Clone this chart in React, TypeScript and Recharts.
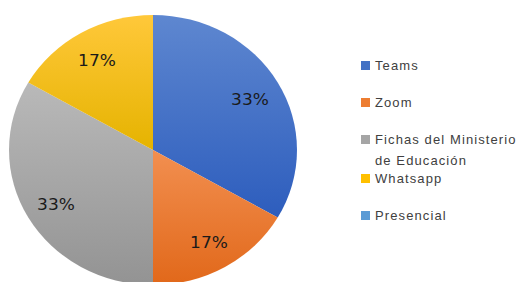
import React from 'react';
import { PieChart, Pie, Cell } from 'recharts';

const categories = ['Teams', 'Zoom', 'Fichas del Ministerio de Educación', 'Whatsapp', 'Presencial'];
const values = [2, 1, 2, 1, 0];
const legendLines = [['Teams'], ['Zoom'], ['Fichas del Ministerio', 'de Educación'], ['Whatsapp'], ['Presencial']];
const topColors = ['#5E87D0', '#F28F50', '#B9B9B9', '#FFC83A', '#5B9BD5'];
const bottomColors = ['#2D5DBD', '#E1681A', '#939393', '#E5B300', '#5B9BD5'];
const legendColors = ['#4472C4', '#ED7D31', '#A5A5A5', '#FFC000', '#5B9BD5'];

const data = categories.map((name, i) => ({ name, value: values[i] }));

const RAD = Math.PI / 180;
const SY = 135 / 144;

const renderLabel = (props: any) => {
  const { cx, cy, midAngle, percent, value } = props;
  if (!value) return null;
  const r = 112;
  const x = cx + r * Math.cos(-midAngle * RAD);
  const y = cy + r * Math.sin(-midAngle * RAD) + 2;
  return (
    <text
      x={x}
      y={y}
      textAnchor="middle"
      dominantBaseline="central"
      fill="#1a1a1a"
      fontFamily="DejaVu Sans"
      fontSize={17}
    >
      {`${Math.round(percent * 100)}%`}
    </text>
  );
};

export default function App() {
  return (
    <div style={{ position: 'absolute', left: 0, top: 0, width: 521, height: 282, overflow: 'hidden', background: '#fff' }}>
      <div style={{ position: 'absolute', left: 0, top: 0, transform: `scaleY(${SY})`, transformOrigin: '0 0' }}>
        <PieChart width={310} height={310} margin={{ top: 0, right: 0, bottom: 0, left: 0 }}>
          <defs>
            {categories.map((c, i) => (
              <linearGradient key={c} id={`g${i}`} x1="0" y1="0" x2="0" y2="1">
                <stop offset="0%" stopColor={topColors[i]} />
                <stop offset="100%" stopColor={bottomColors[i]} />
              </linearGradient>
            ))}
          </defs>
          <Pie
            data={data}
            dataKey="value"
            nameKey="name"
            cx={153}
            cy={160}
            outerRadius={144}
            startAngle={90}
            endAngle={-270}
            stroke="none"
            label={renderLabel}
            labelLine={false}
            isAnimationActive={false}
          >
            {data.map((d, i) => (
              <Cell key={d.name} fill={`url(#g${i})`} />
            ))}
          </Pie>
        </PieChart>
      </div>
      {legendLines.map((lines, i) => {
        const top = 65 + 37 * i + (i >= 3 ? 2 : 0);
        return (
          <div key={i} style={{ position: 'absolute', left: 361, top: top - 10, display: 'flex', alignItems: 'flex-start' }}>
            <div style={{ width: 9, height: 9, background: legendColors[i], marginTop: 6, marginRight: 5 }} />
            <div style={{ fontFamily: 'Liberation Sans', fontSize: 13, letterSpacing: 1.1, color: '#404040', lineHeight: '21px', whiteSpace: 'nowrap' }}>
              {lines.map((l, j) => (
                <div key={j}>{l}</div>
              ))}
            </div>
          </div>
        );
      })}
    </div>
  );
}
